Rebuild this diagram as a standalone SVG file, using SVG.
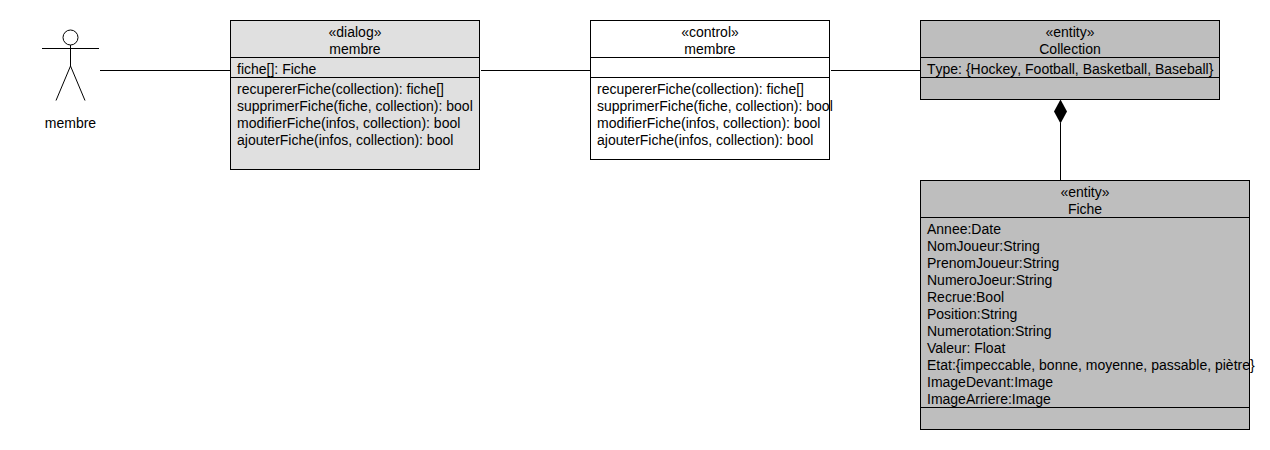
<svg xmlns="http://www.w3.org/2000/svg" width="1270" height="450" viewBox="0 0 1270 450">
<style>
text{font-family:"Liberation Sans",Arial,sans-serif;font-size:14px;fill:#000}
.c{text-anchor:middle}
.n{font-kerning:none}
.b{stroke:#000;stroke-width:1;shape-rendering:crispEdges}
.l{stroke:#000;stroke-width:1;fill:none}
.e{fill:#bebebe}.d{fill:#e0e0e0}.w{fill:#fff}
</style>
<rect width="1270" height="450" fill="#fff"/>
<g id="actor">
<circle class="l" cx="70.500" cy="37.500" r="7.500"/>
<path class="l" d="M42 48.500H99M70.500 45V66M70.500 66L56 100.500M70.500 66L85 100.500"/>
<text class="c" x="70.500" y="128">membre</text>
</g>
<g id="dialog-membre">
<rect class="b d" x="230.500" y="20.500" width="249" height="149"/>
<path class="b" d="M230.500 57.500H479.500M230.500 77.500H479.500"/>
<text class="c" x="355" y="37">«dialog»</text><text class="c" x="355" y="54">membre</text>
<text x="237" y="74">fiche[]: Fiche</text>
<text x="237" y="94">recupererFiche(collection): fiche[]</text>
<text x="237" y="111">supprimerFiche(fiche, collection): bool</text>
<text x="237" y="128">modifierFiche(infos, collection): bool</text>
<text x="237" y="145">ajouterFiche(infos, collection): bool</text>
</g>
<g id="control-membre">
<rect class="b w" x="590.500" y="20.500" width="239" height="139"/>
<path class="b" d="M590.500 57.500H829.500M590.500 77.500H829.500"/>
<text class="c" x="710" y="37">«control»</text><text class="c" x="710" y="54">membre</text>
<text x="597" y="94">recupererFiche(collection): fiche[]</text>
<text x="597" y="111">supprimerFiche(fiche, collection): bool</text>
<text x="597" y="128">modifierFiche(infos, collection): bool</text>
<text x="597" y="145">ajouterFiche(infos, collection): bool</text>
</g>
<g id="entity-collection">
<rect class="b e" x="920.500" y="20.500" width="299" height="79"/>
<path class="b" d="M920.500 57.500H1219.500M920.500 77.500H1219.500"/>
<text class="c" x="1070" y="37">«entity»</text><text class="c" x="1070" y="54">Collection</text>
<text class="n" x="927" y="74">Type: {Hockey, Football, Basketball, Baseball}</text>
</g>
<g id="entity-fiche">
<rect class="b e" x="920.500" y="180.500" width="329" height="249"/>
<path class="b" d="M920.500 217.500H1249.500M920.500 407.500H1249.500"/>
<text class="c" x="1085" y="197">«entity»</text><text class="c" x="1085" y="214">Fiche</text>
<text x="927" y="234">Annee:Date</text>
<text x="927" y="251">NomJoueur:String</text>
<text x="927" y="268">PrenomJoueur:String</text>
<text x="927" y="285">NumeroJoeur:String</text>
<text x="927" y="302">Recrue:Bool</text>
<text x="927" y="319">Position:String</text>
<text x="927" y="336">Numerotation:String</text>
<text x="927" y="353">Valeur: Float</text>
<text x="927" y="370">Etat:{impeccable, bonne, moyenne, passable, piètre}</text>
<text x="927" y="387">ImageDevant:Image</text>
<text x="927" y="404">ImageArriere:Image</text>
</g>
<g id="connectors">
<path class="l" shape-rendering="crispEdges" d="M100 70.500H230.500M480.500 70.500H590.500M830.500 70.500H920.500M1060.500 123V180.500"/>
<polygon points="1060.500,99.500 1067,111.500 1060.500,123.500 1054,111.500" fill="#000"/>
</g>
</svg>
